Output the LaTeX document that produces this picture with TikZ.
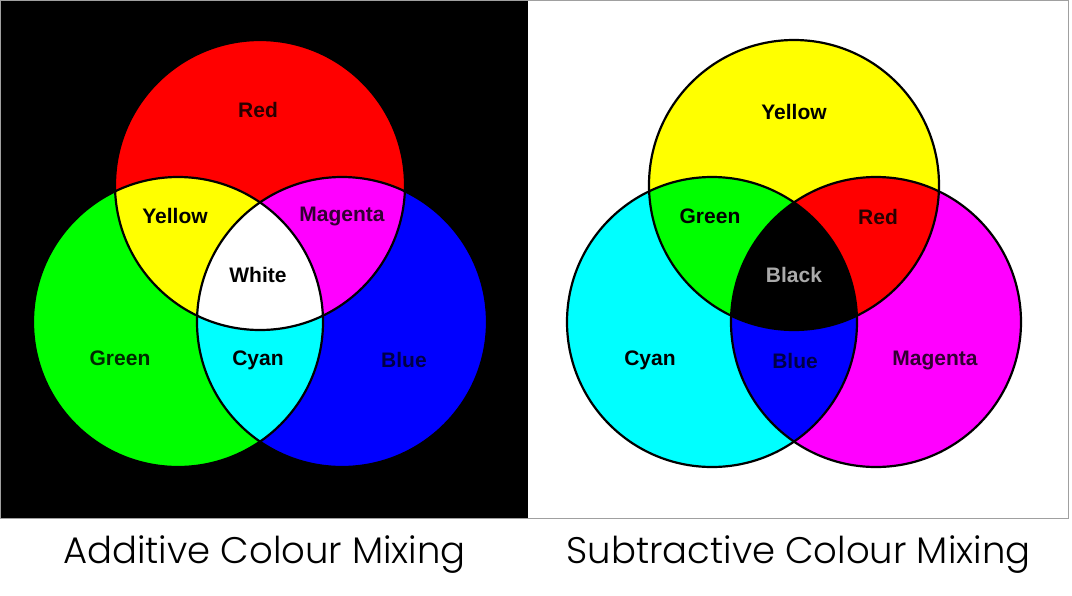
\documentclass[tikz,border=0pt]{standalone}
\usepackage{fontspec}
\setmainfont{Liberation Sans}
\newfontfamily\capfont{Poppins}[UprightFont={* Light}]
\begin{document}
\begin{tikzpicture}[x=1pt,y=-1pt,
  ring/.style={draw=black,line width=2.2pt},
  lab/.style={font=\fontsize{21}{24}\selectfont\bfseries,inner sep=0pt},
  captext/.style={font=\capfont\fontsize{37}{42}\selectfont,inner sep=0pt,anchor=base}]
\definecolor{cR}{RGB}{255,0,0}
\definecolor{cG}{RGB}{0,255,0}
\definecolor{cB}{RGB}{0,0,255}
\definecolor{cY}{RGB}{255,255,0}
\definecolor{cM}{RGB}{255,0,255}
\definecolor{cC}{RGB}{0,255,255}
\definecolor{frame}{RGB}{160,160,160}
\useasboundingbox (0,0) rectangle (1072,595);
\fill[white] (0,0) rectangle (1072,595);
% panels
\fill[black] (0,0) rectangle (528,518);
\draw[frame,line width=1pt] (0.5,0.5) rectangle (1068,518);
% ---------- additive ----------
\coordinate (R) at (260,185);
\coordinate (G) at (178,322);
\coordinate (B) at (342,322);
\fill[cR] (R) circle (145);
\fill[cG] (G) circle (145);
\fill[cB] (B) circle (145);
\begin{scope}\clip (R) circle (145); \fill[cY] (G) circle (145); \fill[cM] (B) circle (145);\end{scope}
\begin{scope}\clip (G) circle (145); \fill[cC] (B) circle (145);\end{scope}
\begin{scope}\clip (R) circle (145); \clip (G) circle (145); \fill[white] (B) circle (145);\end{scope}
\draw[ring] (R) circle (145);
\draw[ring] (G) circle (145);
\draw[ring] (B) circle (145);
\node[lab,text={rgb,255:red,40;green,0;blue,0}] (tR) at (258,110) {Red};
\node[lab] (tY) at (175,216) {Yellow};
\node[lab,text={rgb,255:red,50;green,0;blue,50}] (tM) at (342,216) {Magenta};
\node[lab] (tW) at (258,275) {White};
\node[lab,text={rgb,255:red,0;green,40;blue,0}] (tG) at (120,358) {Green};
\node[lab] (tC) at (258,360) {Cyan};
\node[lab,text={rgb,255:red,0;green,0;blue,70}] (tB) at (404,360) {Blue};
% ---------- subtractive ----------
\coordinate (Y2) at (794,185);
\coordinate (C2) at (712,322);
\coordinate (M2) at (876,322);
\fill[cY] (Y2) circle (145);
\fill[cC] (C2) circle (145);
\fill[cM] (M2) circle (145);
\begin{scope}\clip (Y2) circle (145); \fill[cG] (C2) circle (145); \fill[cR] (M2) circle (145);\end{scope}
\begin{scope}\clip (C2) circle (145); \fill[cB] (M2) circle (145);\end{scope}
\begin{scope}\clip (Y2) circle (145); \clip (C2) circle (145); \fill[black] (M2) circle (145);\end{scope}
\draw[ring] (Y2) circle (145);
\draw[ring] (C2) circle (145);
\draw[ring] (M2) circle (145);
\node[lab] (sY) at (794,112) {Yellow};
\node[lab] (sG) at (710,216) {Green};
\node[lab,text={rgb,255:red,40;green,0;blue,0}] (sR) at (878,217) {Red};
\node[lab,text={rgb,255:red,170;green,170;blue,170}] (sK) at (794,275) {Black};
\node[lab] (sC) at (650,360) {Cyan};
\node[lab,text={rgb,255:red,0;green,0;blue,70}] (sB) at (795,361) {Blue};
\node[lab,text={rgb,255:red,50;green,0;blue,50}] (sM) at (935,360) {Magenta};
% captions
\node[captext] (capA) at (264.5,563) {Additive Colour Mixing};
\node[captext] (capS) at (798.5,563) {Subtractive Colour Mixing};
\end{tikzpicture}
\end{document}
